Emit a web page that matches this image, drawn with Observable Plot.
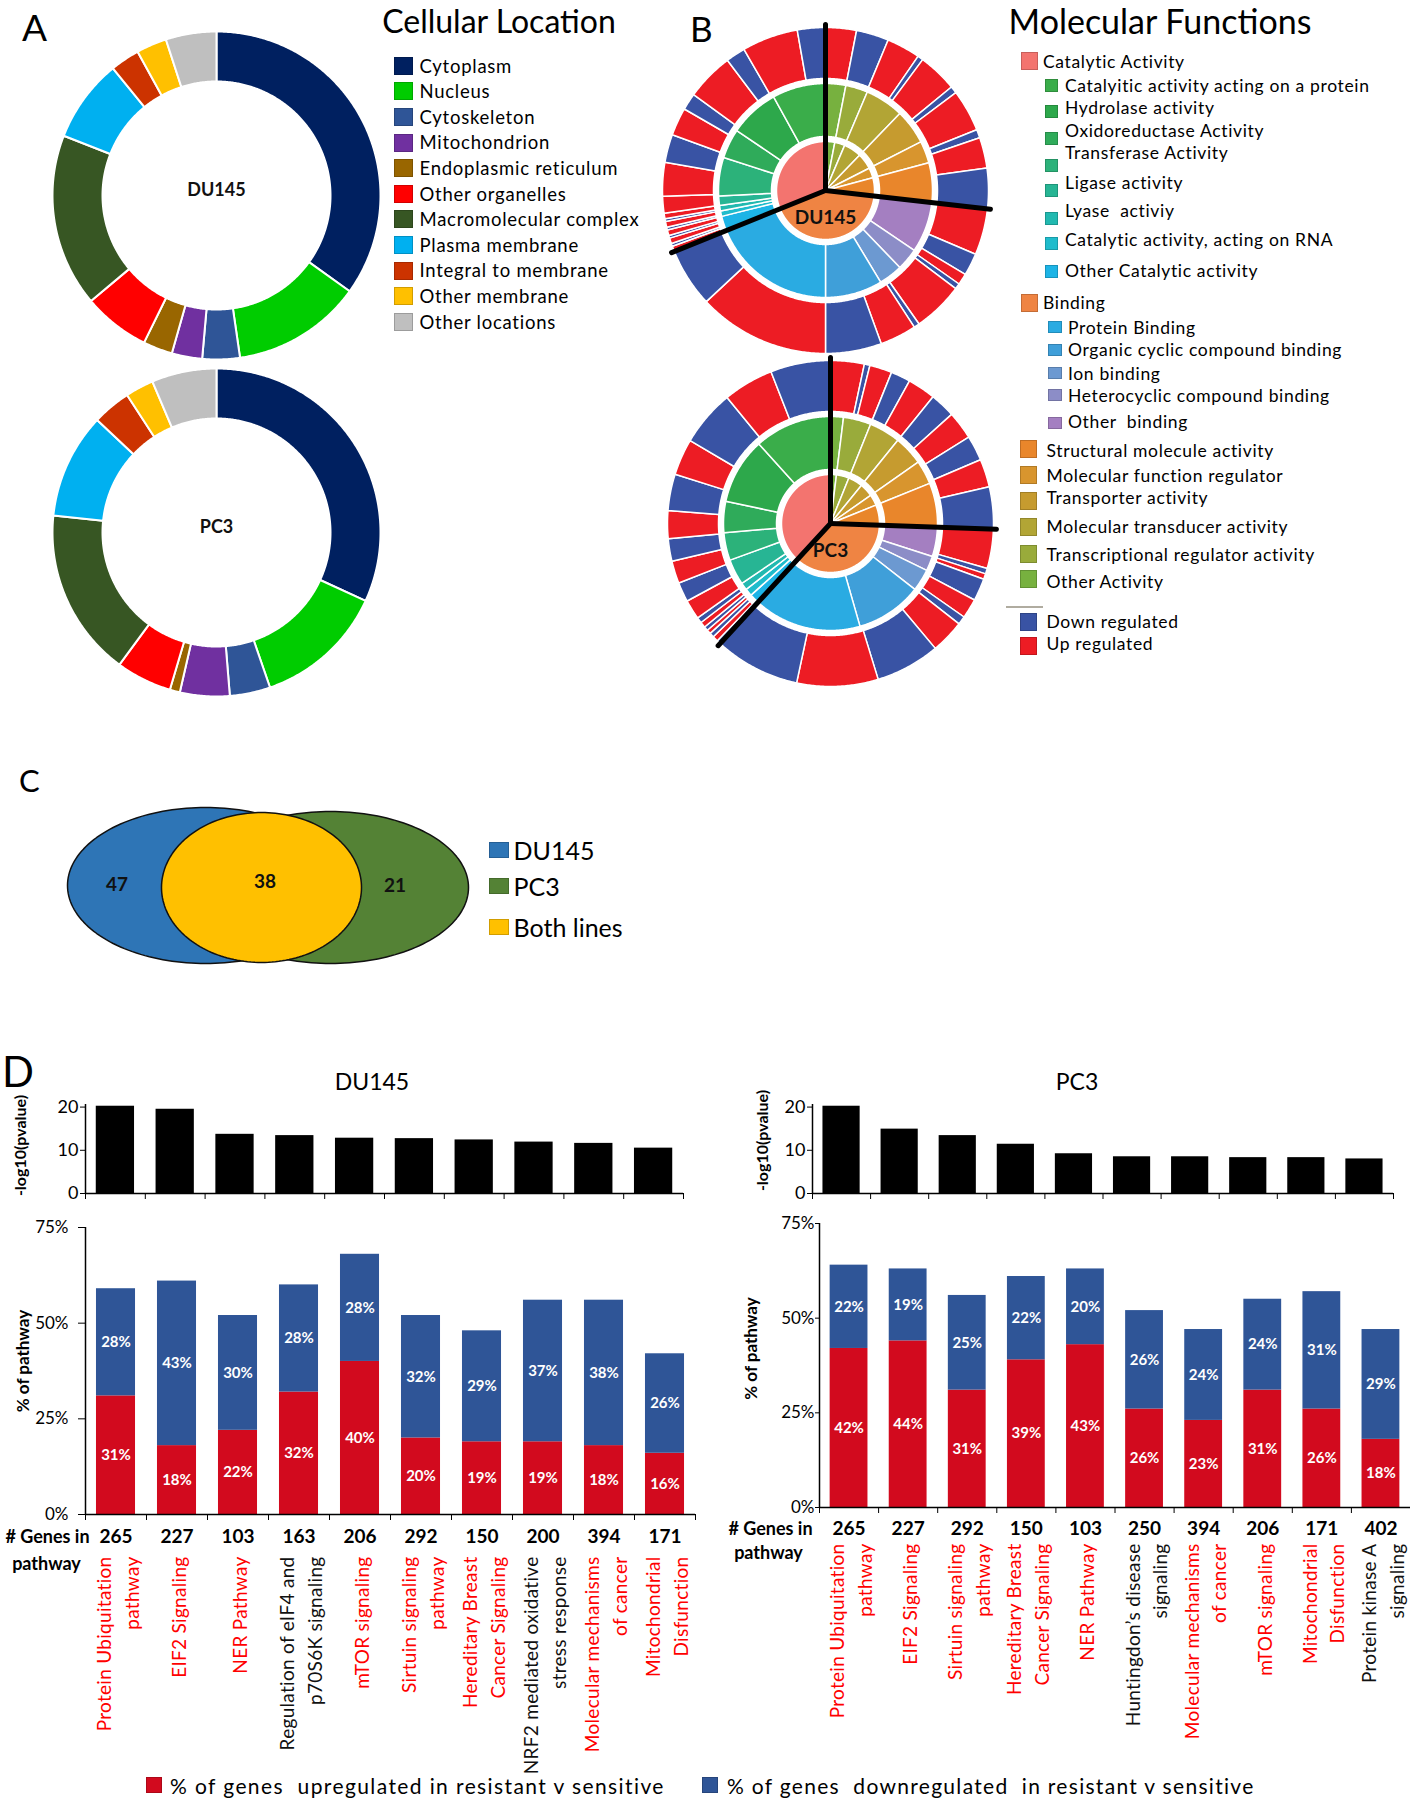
<!DOCTYPE html>
<html><head><meta charset="utf-8">
<script src="https://cdn.jsdelivr.net/npm/d3@7"></script>
<script src="https://cdn.jsdelivr.net/npm/@observablehq/plot@0.6"></script>
<style>
html,body{margin:0;padding:0;background:#fff;}
#root{position:relative;width:1410px;height:1800px;overflow:hidden;background:#fff;font-family:Lato,"Open Sans",sans-serif;}
</style></head>
<body><div id="root"></div>
<script>
// ================= DATA =================
// Panel A – Cellular Location (share of proteins, %)
const locationNames = ["Cytoplasm","Nucleus","Cytoskeleton","Mitochondrion","Endoplasmic reticulum","Other organelles","Macromolecular complex","Plasma membrane","Integral to membrane","Other membrane","Other locations"];
const locationColors = ["#002060","#00cc00","#2f5597","#7030a0","#996600","#ff0000","#375623","#00b0f0","#cc3300","#ffc000","#bfbfbf"];
const locationDU145 = [35.0,12.8,3.7,3.0,2.9,6.6,17.1,8.2,2.9,3.0,5.0];
const locationPC3   = [31.9,12.9,4.0,4.9,1.0,5.5,16.6,10.4,3.8,2.8,6.4];

// Panel B – Molecular Functions (shares in degrees of the circle)
const mfNames = ["Other Activity","Transcriptional regulator activity","Molecular transducer activity","Transporter activity","Molecular function regulator","Structural molecule activity",
  "Other binding","Heterocyclic compound binding","Ion binding","Organic cyclic compound binding","Protein Binding",
  "Other Catalytic activity","Catalytic activity, acting on RNA","Lyase activiy","Ligase activity","Transferase Activity","Oxidoreductase Activity","Hydrolase activity","Catalyitic activity acting on a protein"];
const mfParent = [null,null,null,null,null,null,"Binding","Binding","Binding","Binding","Binding",
  "Catalytic Activity","Catalytic Activity","Catalytic Activity","Catalytic Activity","Catalytic Activity","Catalytic Activity","Catalytic Activity","Catalytic Activity"];
const mfColors = ["#77b13f","#99ab3b","#b2a535","#c69b2f","#d8952e","#e9862b",
  "#a47fc1","#8c8dc7","#6c99d1","#3f9fd9","#2aabe2",
  "#1db4e6","#1fbccc","#22b9b0","#27b594","#2cb27a","#2fab5a","#2da84b","#3aad4a"];
const mfGroupNames = ["Binding","Catalytic Activity"];
const mfGroupColors = ["#ef8443","#f3746f"];
const regulationNames = ["Down regulated","Up regulated"];
const regulationColors = ["#3953a4","#ed1c24"];
const mfMiddleDU145 = [11,12,21,19,12,21.5, 27.5,12,13,31,68, 8,3,3,5,21,16,27,29];
const mfMiddlePC3   = [7,15,17,16,13,24, 16,8,12,36,58.6, 5.4,4,4,14,15,17,36,42];
const mfOuterDU145 = [11,11.6,12,2,14,2.5,15,3,11,14.4, 16.5,8,4,2,18,2,13,20,47,21, 2,1,2,1,2,1,2,1,2,6,12,10,10,6,17,7,20,10];
const mfOuterDU145Dir = "UDUDUDUDUD" + "UDUDUDUDUD" + "UDUDUDUDUUUDUDUDUD";
const mfOuterPC3 = [12,2,8,7,10,9,10,9,10,15, 14,2,2,8,7,3,12,23,29,30.6, 1.4,2,1.6,1.5,1.5,2,2,7,7,8,8,10,13,13,20,18,21.4];
const mfOuterPC3Dir = "UDUDUDUDUD" + "UDUDUDUDUD" + "DUDUDUDUDUDUDUDUD";

// Panel C – Venn
const vennSets = ["DU145","PC3","Both lines"];
const vennCounts = [47,21,38];
const vennColors = ["#2e75b6","#548235","#ffc000"];

// Panel D – pathways
const du145Labels = ["Protein Ubiquitation\npathway","EIF2 Signaling","NER Pathway","Regulation of eIF4 and\np70S6K signaling","mTOR signaling","Sirtuin signaling\npathway","Hereditary Breast\nCancer Signaling","NRF2 mediated oxidative\nstress response","Molecular mechanisms\nof cancer","Mitochondrial\nDisfunction"];
const du145Shared = [true,true,true,false,true,true,true,false,true,true];
const du145Genes = [265,227,103,163,206,292,150,200,394,171];
const du145Pvalue = [20.2,19.5,13.7,13.4,12.8,12.7,12.4,11.9,11.6,10.5];
const du145Up = [31,18,22,32,40,20,19,19,18,16];
const du145Down = [28,43,30,28,28,32,29,37,38,26];

const pc3Labels = ["Protein Ubiquitation\npathway","EIF2 Signaling","Sirtuin signaling\npathway","Hereditary Breast\nCancer Signaling","NER Pathway","Huntingdon’s disease\nsignaling","Molecular mechanisms\nof cancer","mTOR signaling","Mitochondrial\nDisfunction","Protein kinase A\nsignaling"];
const pc3Shared = [true,true,true,true,true,false,true,true,true,false];
const pc3Genes = [265,227,292,150,103,250,394,206,171,402];
const pc3Pvalue = [20.2,14.9,13.4,11.4,9.2,8.5,8.5,8.3,8.3,8.0];
const pc3Up = [42,44,31,39,43,26,23,31,26,18];
const pc3Down = [22,19,25,22,20,26,24,24,31,29];

// ================= HELPERS =================
const FONT = "Lato, 'Open Sans', sans-serif";
const UP_BAR = "#d20a1e", DOWN_BAR = "#2f5597";
const root = document.getElementById("root");
const rad = Math.PI / 180;

function put(svg, left, top) {
  svg.style.position = "absolute";
  svg.style.left = left + "px";
  svg.style.top = top + "px";
  svg.style.background = "transparent";
  svg.style.overflow = "visible";
  svg.style.maxWidth = "none";
  root.appendChild(svg);
  return svg;
}
function txt(s, x, yc, o = {}) {
  const size = o.size || 16;
  const d = document.createElement("div");
  d.textContent = s;
  Object.assign(d.style, {position: "absolute", left: x + "px", top: (yc - size * 0.6) + "px",
    fontSize: size + "px", lineHeight: (size * 1.2) + "px", fontWeight: o.weight || "normal",
    color: o.color || "#000", whiteSpace: "pre", fontFamily: FONT, letterSpacing: o.ls || "normal"});
  if (o.anchor === "middle") d.style.transform = "translateX(-50%)";
  if (o.anchor === "end") d.style.transform = "translateX(-100%)";
  root.appendChild(d);
  return d;
}
function box(x, yc, w, h, color) {
  const d = document.createElement("div");
  Object.assign(d.style, {position: "absolute", left: x + "px", top: (yc - h / 2) + "px", width: w + "px", height: h + "px",
    background: color, boxSizing: "border-box", border: "1px solid rgba(0,0,0,0.18)"});
  root.appendChild(d);
}
function arcFeature(a0, a1, r0, r1, props) {
  const n = Math.max(2, Math.ceil(Math.abs(a1 - a0) / 0.5));
  const pts = [];
  for (let k = 0; k <= n; k++) { const t = (a0 + (a1 - a0) * k / n) * rad; pts.push([r1 * Math.sin(t), -r1 * Math.cos(t)]); }
  if (r0 > 0) for (let k = n; k >= 0; k--) { const t = (a0 + (a1 - a0) * k / n) * rad; pts.push([r0 * Math.sin(t), -r0 * Math.cos(t)]); }
  else pts.push([0, 0]);
  pts.push(pts[0].slice());
  return {type: "Feature", properties: {...props, a0, a1}, geometry: {type: "Polygon", coordinates: [pts]}};
}
function ring(values, colors, names, r0, r1) {
  const total = d3.sum(values); let a = 0;
  return values.map((v, i) => { const a0 = a; a += v / total * 360; return arcFeature(a0, a, r0, r1, {name: names[i], color: colors[i]}); });
}
function squareProjection(R) {
  return {type: "identity", domain: {type: "MultiPoint", coordinates: [[-R, -R], [R, R]]}};
}

// ================= PANEL A =================
function donut(values, label) {
  const R = 170;
  return Plot.plot({
    width: 2 * R, height: 2 * R, margin: 0,
    projection: squareProjection(R),
    marks: [
      Plot.geo(ring(values, locationColors, locationNames, 114, 164), {fill: d => d.properties.color, stroke: "white", strokeWidth: 2}),
      Plot.text([label], {frameAnchor: "middle", dy: -5, fontWeight: "bold", fontSize: 18, fontFamily: FONT, fill: "#111"})
    ]
  });
}
put(donut(locationDU145, "DU145"), 46, 25);
put(donut(locationPC3, "PC3"), 46, 362);

txt("A", 22, 27, {size: 37});
txt("Cellular Location", 499, 21, {size: 32, anchor: "middle"});
locationNames.forEach((n, i) => {
  box(394, 65.7 + 25.6 * i, 19, 18, locationColors[i]);
  txt(n, 419.5, 65.7 + 25.6 * i, {size: 18.5, ls: "0.75px"});
});

// ================= PANEL B =================
function sunburst(middle, outer, dirs, label) {
  const R = 170;
  const inner = [];
  mfNames.forEach((n, i) => {
    const p = mfParent[i];
    if (!p) inner.push({name: n, value: middle[i], color: mfColors[i]});
    else {
      const last = inner[inner.length - 1];
      if (last.name === p) last.value += middle[i];
      else inner.push({name: p, value: middle[i], color: mfGroupColors[mfGroupNames.indexOf(p)]});
    }
  });
  const innerF = ring(inner.map(d => d.value), inner.map(d => d.color), inner.map(d => d.name), 0, 49);
  const midF = ring(middle, mfColors, mfNames, 54, 107);
  const dirIdx = Array.from(dirs).map(c => c === "U" ? 1 : 0);
  const outF = ring(outer, dirIdx.map(k => regulationColors[k]), dirIdx.map(k => regulationNames[k]), 112, 163);
  const starts = [0].concat(innerF.filter(f => mfGroupNames.includes(f.properties.name)).map(f => f.properties.a0));
  const lines = starts.map(a => ({type: "Feature", properties: {}, geometry: {type: "LineString", coordinates: [[0, 0], [166 * Math.sin(a * rad), -166 * Math.cos(a * rad)]]}}));
  return Plot.plot({
    width: 2 * R, height: 2 * R, margin: 0,
    projection: squareProjection(R),
    marks: [
      Plot.geo(innerF.concat(midF, outF), {fill: d => d.properties.color, stroke: "white", strokeWidth: 1.5}),
      Plot.geo(lines, {stroke: "black", strokeWidth: 5, fill: "none"}),
      Plot.text([label], {frameAnchor: "middle", dy: 27, fontWeight: "bold", fontSize: 19, fontFamily: FONT, fill: "#111"})
    ]
  });
}
put(sunburst(mfMiddleDU145, mfOuterDU145, mfOuterDU145Dir, "DU145"), 655, 20);
put(sunburst(mfMiddlePC3, mfOuterPC3, mfOuterPC3Dir, "PC3"), 660, 353);

txt("B", 690, 28, {size: 35});
txt("Molecular Functions", 1160, 21, {size: 34, anchor: "middle"});
const mfColorOf = name => {
  let i = mfNames.indexOf(name); if (i >= 0) return mfColors[i];
  i = mfGroupNames.indexOf(name); if (i >= 0) return mfGroupColors[i];
  i = regulationNames.indexOf(name); return regulationColors[i];
};
const legendStyles = {
  main: {sx: 1021, sw: 17, sh: 18, tx: 1043, fs: 17.5},
  sub: {sx: 1045, sw: 13, sh: 13, tx: 1065, fs: 17.5},
  sub2: {sx: 1048, sw: 14, sh: 12, tx: 1068, fs: 17.5},
  other: {sx: 1019.5, sw: 17.5, sh: 18, tx: 1046.5, fs: 17.5}
};
const mfLegendLayout = [
  ["Catalytic Activity","main",61,61.7],
  ["Catalyitic activity acting on a protein","sub",85.5,85.7],
  ["Hydrolase activity","sub",111.7,107],
  ["Oxidoreductase Activity","sub",138,130],
  ["Transferase Activity","sub",165,152.7],
  ["Ligase activity","sub",190,182.7],
  ["Lyase activiy","sub",218,210],
  ["Catalytic activity, acting on RNA","sub",243.7,239],
  ["Other Catalytic activity","sub",271,270.7],
  ["Binding","main",303.3,302.7],
  ["Protein Binding","sub2",327.3,327],
  ["Organic cyclic compound binding","sub2",350,349],
  ["Ion binding","sub2",372.5,373.3],
  ["Heterocyclic compound binding","sub2",395,395],
  ["Other binding","sub2",422.5,421.7],
  ["Structural molecule activity","other",449,450],
  ["Molecular function regulator","other",475.3,475],
  ["Transporter activity","other",501,497.3],
  ["Molecular transducer activity","other",527.3,526.7],
  ["Transcriptional regulator activity","other",554,554],
  ["Other Activity","other",579,581.7],
  ["Down regulated","other",622.3,621.7],
  ["Up regulated","other",646,643.3]
];
mfLegendLayout.forEach(([name, st, sy, ty]) => {
  const s = legendStyles[st];
  box(s.sx, sy, s.sw, s.sh, mfColorOf(name));
  txt(name === "Other binding" ? "Other  binding" : name === "Lyase activiy" ? "Lyase  activiy" : name, s.tx, ty, {size: s.fs, ls: "0.65px"});
});
(() => { const d = document.createElement("div");
  Object.assign(d.style, {position: "absolute", left: "1006px", top: "606px", width: "37px", height: "1.5px", background: "#b0aca0"});
  root.appendChild(d); })();

// ================= PANEL C =================
(() => {
  const W = 430, H = 185;
  const shapes = [{cx: 150, cy: 90, rx: 138, ry: 78}, {cx: 275, cy: 92, rx: 138, ry: 76}, {cx: 206, cy: 92, rx: 100, ry: 75}];
  const labelPos = [[61.6, 89], [339.6, 90], [209.6, 86]];
  const feats = shapes.map((s, i) => {
    const pts = d3.range(0, 361, 2).map(a => [s.cx + s.rx * Math.cos(a * rad), s.cy + s.ry * Math.sin(a * rad)]);
    return {type: "Feature", properties: {name: vennSets[i], color: vennColors[i]}, geometry: {type: "Polygon", coordinates: [pts]}};
  });
  const labels = vennCounts.map((c, i) => ({count: c, x: labelPos[i][0], y: labelPos[i][1]}));
  put(Plot.plot({
    width: W, height: H, margin: 0,
    projection: {type: "identity", domain: {type: "MultiPoint", coordinates: [[0, 0], [W, H]]}},
    marks: [
      Plot.geo(feats, {fill: d => d.properties.color, stroke: "#111", strokeWidth: 1.5}),
      Plot.text(labels, {x: "x", y: "y", text: d => String(d.count), fontWeight: "bold", fontSize: 19, fontFamily: FONT, fill: "#111"})
    ]
  }), 55, 795);
  txt("C", 19, 781, {size: 31});
  const ly = [850, 886, 926.7];
  vennSets.forEach((n, i) => { box(489, ly[i], 20, 16, vennColors[i]); txt(n, 513.5, ly[i], {size: 25}); });
})();

// ================= PANEL D =================
function topChart(pvals, o) {
  const rows = pvals.map((p, i) => ({i, p}));
  return Plot.plot({
    width: o.width, height: 125, marginLeft: o.ml, marginRight: o.mr, marginTop: 16, marginBottom: 20,
    style: {fontFamily: FONT, fontSize: "18px", color: "#000"},
    x: {type: "linear", domain: [0, pvals.length], ticks: d3.range(pvals.length + 1), tickFormat: () => "", tickSize: 6, label: null},
    y: {domain: [0, 20.6], ticks: [0, 10, 20], tickSize: 5, tickPadding: 2, label: null},
    marks: [
      Plot.rect(rows, {x1: d => d.i + 0.18, x2: d => d.i + 0.82, y1: 0, y2: "p", fill: "black"}),
      Plot.ruleX([0], {strokeWidth: 1.5}),
      Plot.ruleY([0], {strokeWidth: 1.5}),
      Plot.text(["-log10(pvalue)"], {frameAnchor: "left", textAnchor: "middle", rotate: -90, dx: o.labelDx, dy: o.labelDy, fontWeight: "bold", fontSize: 16, fontFamily: FONT})
    ]
  });
}
function bottomChart(labels, shared, genes, up, down, o) {
  const rows = labels.map((l, i) => ({i, label: l, color: shared[i] ? "#ff0000" : "#111111", genes: genes[i], up: up[i], down: down[i]}));
  const svg = Plot.plot({
    width: o.width, height: o.height, marginLeft: o.ml, marginRight: o.mr, marginTop: o.mt, marginBottom: o.mb,
    style: {fontFamily: FONT, fontSize: "17px", color: "#000"},
    x: {type: "linear", domain: [0, labels.length], ticks: d3.range(labels.length + 1), tickFormat: () => "", tickSize: 6, label: null},
    y: {domain: [0, 75], ticks: [0, 25, 50, 75], tickFormat: d => d + "%", tickSize: o.tickSize, tickPadding: o.tickPadding, label: null},
    marks: [
      Plot.rect(rows, {x1: d => d.i + 0.18, x2: d => d.i + 0.82, y1: 0, y2: "up", fill: UP_BAR}),
      Plot.rect(rows, {x1: d => d.i + 0.18, x2: d => d.i + 0.82, y1: "up", y2: d => d.up + d.down, fill: DOWN_BAR}),
      Plot.text(rows, {x: d => d.i + 0.5, y: d => d.up / 2, text: d => d.up + "%", fill: "white", fontWeight: "bold", fontSize: 15, fontFamily: FONT}),
      Plot.text(rows, {x: d => d.i + 0.5, y: d => d.up + d.down / 2, text: d => d.down + "%", fill: "white", fontWeight: "bold", fontSize: 15, fontFamily: FONT}),
      Plot.ruleX([0], {strokeWidth: 1.5}),
      Plot.ruleY([0], {strokeWidth: 1.5}),
      Plot.text(rows, {x: d => d.i + 0.5, frameAnchor: "bottom", dy: o.geneDy, text: d => String(d.genes), fontWeight: "bold", fontSize: 19, fontFamily: FONT}),
      Plot.text(rows, {x: d => d.i + 0.5, frameAnchor: "bottom", dy: o.labelDy, text: "label", rotate: -90, textAnchor: "end", lineAnchor: "middle", lineHeight: 1.45, fill: "color", fontSize: 19, fontFamily: FONT}),
      Plot.text(["# Genes in"], {frameAnchor: "bottom-left", textAnchor: "middle", dx: o.gDx, dy: o.geneDy, fontWeight: "bold", fontSize: 18, fontFamily: FONT}),
      Plot.text(["pathway"], {frameAnchor: "bottom-left", textAnchor: "middle", dx: o.pDx, dy: o.pDy, fontWeight: "bold", fontSize: 18, fontFamily: FONT}),
      Plot.text(["% of pathway"], {frameAnchor: "left", textAnchor: "middle", rotate: -90, dx: o.labelDx, dy: o.labelAxisDy, fontWeight: "bold", fontSize: 17, fontFamily: FONT})
    ]
  });
  const textGroups = svg.querySelectorAll('g[aria-label="text"]');
  if (textGroups[3]) textGroups[3].style.letterSpacing = "0.3px";
  return svg;
}

put(topChart(du145Pvalue, {width: 700, ml: 85, mr: 17, labelDx: -65, labelDy: -3.5}), 0, 1088);
put(topChart(pc3Pvalue, {width: 710, ml: 112, mr: 17, labelDx: -50, labelDy: -8.5}), 700, 1088);
put(bottomChart(du145Labels, du145Shared, du145Genes, du145Up, du145Down,
  {width: 700, height: 560, ml: 85, mr: 5, mt: 17, mb: 256, tickSize: 7, tickPadding: 10, geneDy: 28, labelDy: 42, gDx: -38, pDx: -39, pDy: 55, labelDx: -62, labelAxisDy: -10}), 0, 1210);
put(bottomChart(pc3Labels, pc3Shared, pc3Genes, pc3Up, pc3Down,
  {width: 710, height: 565, ml: 119, mr: 0, mt: 18, mb: 263, tickSize: 4, tickPadding: 1, geneDy: 27, labelDy: 36, gDx: -49, pDx: -51, pDy: 51, labelDx: -68, labelAxisDy: -17}), 700, 1205);

txt("D", 2, 1071, {size: 42});
txt("DU145", 372, 1082, {size: 23, anchor: "middle"});
txt("PC3", 1077, 1082, {size: 23, anchor: "middle"});

box(146, 1785, 16, 16, UP_BAR);
txt("% of genes  upregulated in resistant v sensitive", 170, 1786, {size: 21, ls: "1.4px"});
box(702, 1785, 16, 16, DOWN_BAR);
txt("% of genes  downregulated  in resistant v sensitive", 727, 1786, {size: 21, ls: "1.3px"});
</script>
</body></html>
